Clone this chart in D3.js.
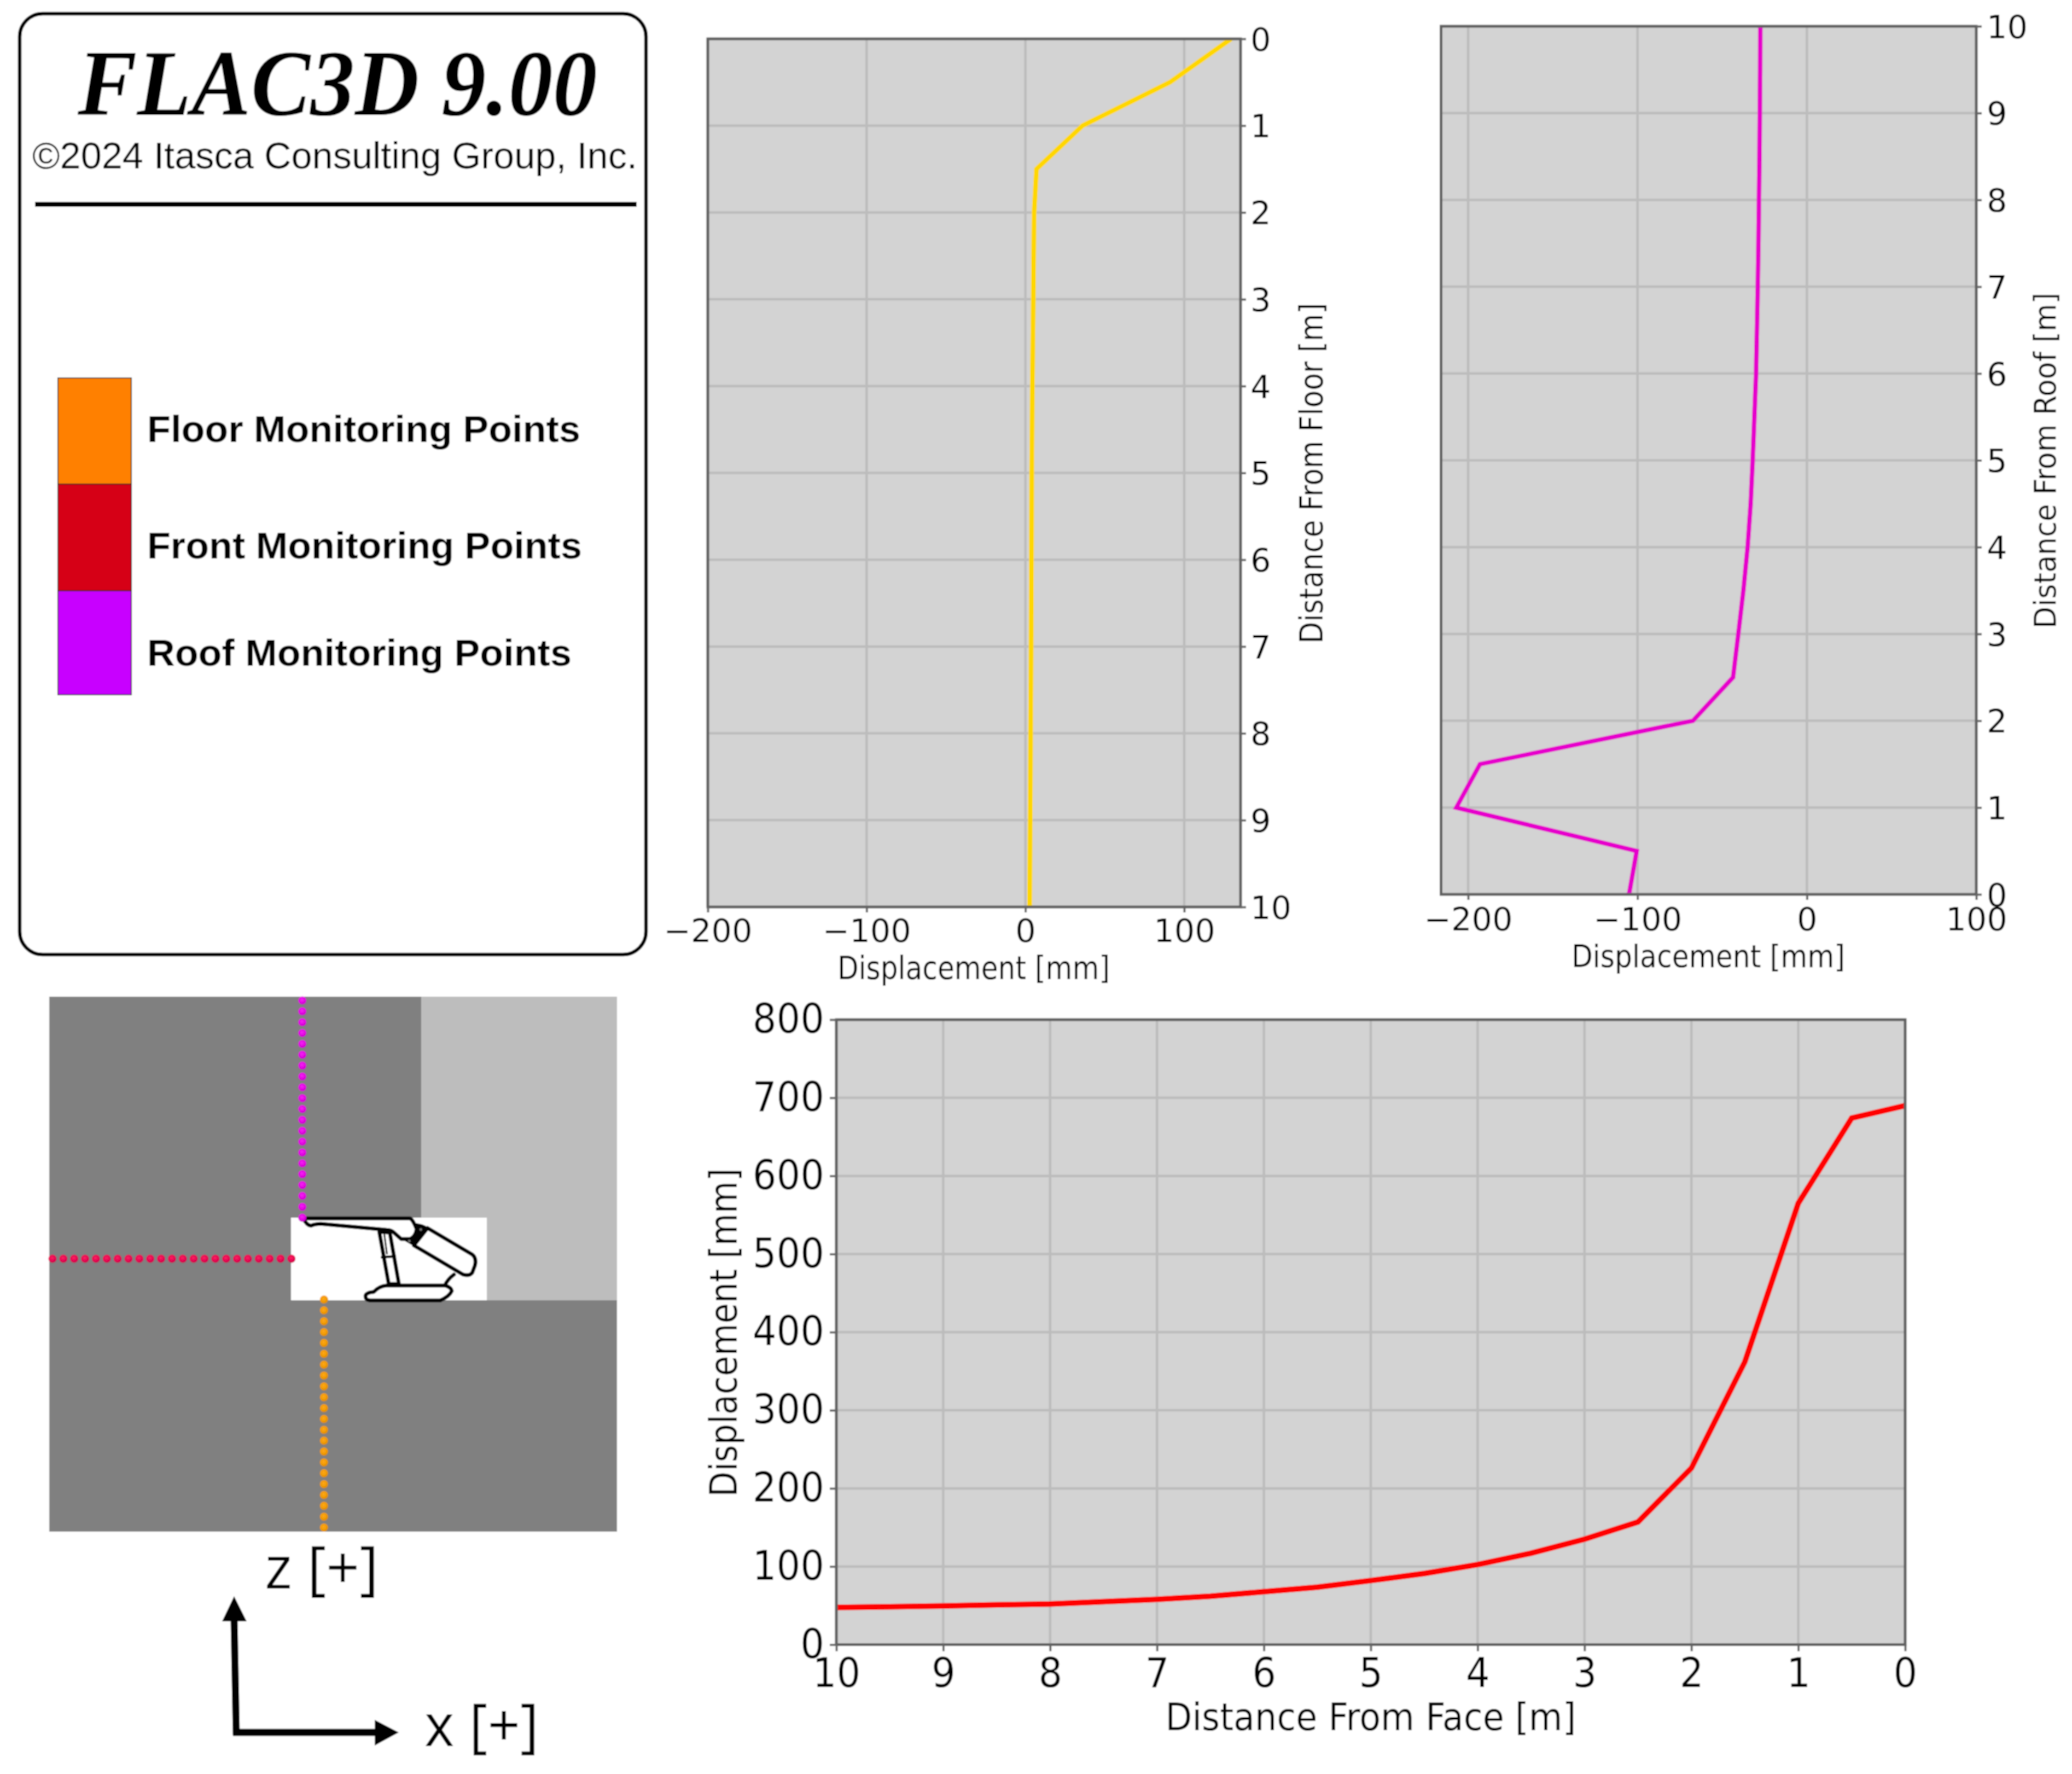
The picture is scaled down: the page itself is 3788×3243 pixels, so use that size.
<!DOCTYPE html>
<html><head><meta charset="utf-8">
<script src="https://cdn.jsdelivr.net/npm/d3@7/dist/d3.min.js"></script>
<style>html,body{margin:0;padding:0;background:#fff}svg{display:block}</style>
</head><body><svg id="c" width="3788" height="3243" viewBox="0 0 3788 3243"></svg>
<script>
// ---- data ----
const distances=[0,0.5,1,1.5,2,2.5,3,3.5,4,4.5,5,5.5,6,6.5,7,7.5,8,8.5,9,9.5,10];
const floorDisp=[129.5,91,36,7,5.5,5.2,5,4.7,4.4,4.2,4,3.9,3.8,3.7,3.6,3.45,3.3,3.15,3,2.85,2.7];
const roofDisp=[-105,-100.5,-207,-193,-67.3,-43.6,-40.5,-37.5,-35,-33.2,-32,-31,-30,-29.5,-29,-28.6,-28.3,-28,-27.8,-27.6,-27.5];
const faceDisp=[690,674,565,362,226,157,135,117,102.5,91,82,73.5,67.7,62,58,55,52,51,49.6,48.5,47.7];
const disTicks=[0,1,2,3,4,5,6,7,8,9,10];
const floorXTicks=[-200,-100,0,100];
const roofXTicks=[-200,-100,0,100];
const faceYTicks=[0,100,200,300,400,500,600,700,800];
const legendNames=["Floor Monitoring Points","Front Monitoring Points","Roof Monitoring Points"];
const legendColors=["#ff8000","#d60018","#c800ff"];
const legendWidths=[792,795,776];
const roofPoints=distances;
const frontPoints=[0,0.5,1,1.5,2,2.5,3,3.5,4,4.5,5,5.5,6,6.5,7,7.5,8,8.5,9,9.5,10,10.5,11];
const floorPoints=[0,0.5,1,1.5,2,2.5,3,3.5,4,4.5,5,5.5,6,6.5,7,7.5,8,8.5,9,9.5,10,10.5];

const rootSvg=d3.select("#c");
const DJ="'DejaVu Sans'";
const defs=rootSvg.append("defs");
defs.append("filter").attr("id","soft").attr("filterUnits","userSpaceOnUse").attr("x",0).attr("y",0).attr("width",3788).attr("height",3243)
  .append("feGaussianBlur").attr("stdDeviation",1.1);
const svg=rootSvg.append("g").attr("filter","url(#soft)");
svg.append("rect").attr("width",3788).attr("height",3243).attr("fill","#fff");

function fitText(sel,len){sel.attr("textLength",len).attr("lengthAdjust","spacingAndGlyphs");return sel;}
function stretchTicks(axisG,fs,sx){
  axisG.selectAll("text").attr("font-size",fs).attr("font-family",DJ).attr("fill","#000")
    .each(function(){const n=this.getComputedTextLength();d3.select(this).attr("textLength",n*sx).attr("lengthAdjust","spacingAndGlyphs");});
}
const fmt=v=>String(v).replace("-","\u2212");
function panel(o){
  const g=svg.append("g");
  const id="clip"+o.id;
  defs.append("clipPath").attr("id",id).append("rect").attr("x",o.l).attr("y",o.t).attr("width",o.r-o.l).attr("height",o.b-o.t);
  g.append("rect").attr("x",o.l).attr("y",o.t).attr("width",o.r-o.l).attr("height",o.b-o.t).attr("fill","#d3d3d3");
  const grid=g.append("g").attr("stroke","#bcbcbc").attr("stroke-width",4.5);
  grid.selectAll("line.x").data(o.xTicks).join("line").attr("x1",d=>o.x(d)).attr("x2",d=>o.x(d)).attr("y1",o.t).attr("y2",o.b);
  grid.selectAll("line.y").data(o.yTicks).join("line").attr("class","y").attr("y1",d=>o.y(d)).attr("y2",d=>o.y(d)).attr("x1",o.l).attr("x2",o.r);
  const line=d3.line().x(d=>o.x(d[0])).y(d=>o.y(d[1]));
  g.append("path").attr("clip-path",`url(#${id})`).attr("d",line(o.pts)).attr("fill","none").attr("stroke",o.color).attr("stroke-width",o.lw).attr("stroke-linejoin","miter");
  g.append("rect").attr("x",o.l).attr("y",o.t).attr("width",o.r-o.l).attr("height",o.b-o.t).attr("fill","none").attr("stroke","#5e5e5e").attr("stroke-width",5);
  const ax=g.append("g").attr("transform",`translate(0,${o.b})`)
    .call(d3.axisBottom(o.x).tickValues(o.xTicks).tickFormat(fmt).tickSize(o.tickLen).tickPadding(o.xPad));
  const ay=o.right
    ? g.append("g").attr("transform",`translate(${o.r},0)`).call(d3.axisRight(o.y).tickValues(o.yTicks).tickSize(o.tickLen).tickPadding(o.yPad))
    : g.append("g").attr("transform",`translate(${o.l},0)`).call(d3.axisLeft(o.y).tickValues(o.yTicks).tickSize(o.tickLen).tickPadding(o.yPad));
  [ax,ay].forEach(a=>{a.select(".domain").remove();a.selectAll("line").attr("stroke","#666").attr("stroke-width",4);});
  if(o.right) ay.selectAll("text").attr("dy","0.36em");
  stretchTicks(ax,o.fs,o.sx);stretchTicks(ay,o.fs,o.sx);
  fitText(g.append("text").attr("x",o.xl.x).attr("y",o.xl.y).attr("text-anchor","middle").attr("font-family",DJ).attr("font-size",o.xl.fs).attr("fill","#000").text(o.xl.t),o.xl.w);
  fitText(g.append("text").attr("transform",`translate(${o.yl.x},${o.yl.y}) rotate(-90)`).attr("text-anchor","middle").attr("font-family",DJ).attr("font-size",o.yl.fs).attr("fill","#000").text(o.yl.t),o.yl.w);
}
panel({id:"floor",l:1294,r:2268,t:71,b:1658,
  x:d3.scaleLinear().domain([-200,135.5]).range([1294,2268]),
  y:d3.scaleLinear().domain([0,10]).range([71,1658]),
  xTicks:floorXTicks,yTicks:disTicks,pts:floorDisp.map((v,i)=>[v,distances[i]]),
  color:"#ffd700",lw:9,right:true,tickLen:10,xPad:12,yPad:8,fs:59,sx:1,
  xl:{t:"Displacement [mm]",x:1780,y:1790,fs:58,w:498},
  yl:{t:"Distance From Floor [m]",x:2418,y:865,fs:58,w:623}});
panel({id:"roof",l:2634.5,r:3613,t:48,b:1635,
  x:d3.scaleLinear().domain([-216,100]).range([2634.5,3613]),
  y:d3.scaleLinear().domain([0,10]).range([1635,48]),
  xTicks:roofXTicks,yTicks:disTicks,pts:roofDisp.map((v,i)=>[v,distances[i]]),
  color:"#e600cc",lw:8.5,right:true,tickLen:10,xPad:14,yPad:9,fs:59,sx:1,
  xl:{t:"Displacement [mm]",x:3123,y:1768,fs:57,w:500},
  yl:{t:"Distance From Roof [m]",x:3758,y:842,fs:56,w:614}});
panel({id:"face",l:1529,r:3483,t:1864,b:3006.5,
  x:d3.scaleLinear().domain([10,0]).range([1529,3483]),
  y:d3.scaleLinear().domain([0,800]).range([3006.5,1864]),
  xTicks:disTicks,yTicks:faceYTicks,pts:faceDisp.map((v,i)=>[distances[i],v]),
  color:"#ff0000",lw:10.5,right:false,tickLen:12,xPad:13,yPad:10,fs:74,sx:0.93,
  xl:{t:"Distance From Face [m]",x:2506,y:3163,fs:70,w:751},
  yl:{t:"Displacement [mm]",x:1347,y:2436,fs:70,w:601}});

// legend box
const box=svg.append("g");
box.append("rect").attr("x",36).attr("y",25).attr("width",1145).attr("height",1720).attr("rx",42).attr("fill","#fff").attr("stroke","#000").attr("stroke-width",6.5);
fitText(box.append("text").attr("x",617).attr("y",210).attr("text-anchor","middle").attr("font-family","'Liberation Serif'").attr("font-weight","bold").attr("font-style","italic").attr("font-size",172).text("FLAC3D 9.00"),950);
fitText(box.append("text").attr("x",612).attr("y",308).attr("text-anchor","middle").attr("font-family","'Liberation Sans'").attr("font-size",68).attr("fill","#000").text("\u00a92024 Itasca Consulting Group, Inc."),1106);
box.append("rect").attr("x",64).attr("y",369).attr("width",1100).attr("height",9).attr("fill","#000");
const swatchY=[691,885,1080,1270];
legendNames.forEach((n,i)=>{
  box.append("rect").attr("x",106).attr("y",swatchY[i]).attr("width",134).attr("height",swatchY[i+1]-swatchY[i]).attr("fill",legendColors[i]).attr("stroke","#222").attr("stroke-width",2);
});
const legendBase=[808,1021,1217];
legendNames.forEach((n,i)=>{
  fitText(box.append("text").attr("x",269).attr("y",legendBase[i]).attr("font-family","'Liberation Sans'").attr("font-weight","bold").attr("font-size",69).attr("fill","#000").text(n),legendWidths[i]);
});

// model view
const view=svg.append("g");
view.append("rect").attr("x",90).attr("y",1822).attr("width",1038).attr("height",978).attr("fill","#808080");
view.append("rect").attr("x",770).attr("y",1822).attr("width",358).attr("height",555).attr("fill","#bdbdbd");
view.append("rect").attr("x",532).attr("y",2226).attr("width",358).attr("height",151).attr("fill","#fff");

function sphere(id,hi,mid,lo){
  const gr=defs.append("radialGradient").attr("id",id).attr("cx","45%").attr("cy","40%").attr("r","62%");
  gr.append("stop").attr("offset","0%").attr("stop-color",hi);
  gr.append("stop").attr("offset","70%").attr("stop-color",mid);
  gr.append("stop").attr("offset","100%").attr("stop-color",lo);
}
sphere("sm","#f820f8","#dd00dd","#b000b8");
sphere("sr","#ff2060","#e00050","#b80048");
sphere("so","#ffa818","#ee9800","#c88000");
const pxPerM=39.7;
const roofS=d3.scaleLinear().domain([0,10]).range([2226,2226-10*pxPerM]);
const frontS=d3.scaleLinear().domain([0,10]).range([532.7,532.7-10*pxPerM]);
const floorS=d3.scaleLinear().domain([0,10]).range([2375.7,2375.7+10*pxPerM]);

// machine pictogram (outline traced in crop units)
const mach=view.append("g").attr("transform","translate(480,2150) scale(0.3333)")
  .attr("fill","#fff").attr("stroke","#000").attr("stroke-width",21).attr("stroke-linejoin","round").attr("stroke-linecap","round");
mach.append("path").attr("d","M1000,600 Q1015,565 1050,540").attr("fill","none");
mach.append("path").attr("d","M640,305 L692,592 L748,592 L698,310 Z");
mach.append("path").attr("d","M655,445 L726,440").attr("fill","none").attr("stroke-width",14);
mach.append("path").attr("d","M668,320 L682,425").attr("fill","none").attr("stroke","#000").attr("stroke-width",9);
mach.append("path").attr("d","M565,655 Q570,638 610,635 Q640,603 680,600 L1000,600 Q1035,610 1038,630 Q1025,660 975,682 L590,682 Q562,680 565,655 Z");
mach.append("path").attr("d","M905,285 L1150,430 Q1175,450 1165,490 L1150,530 Q1135,550 1100,540 L830,380 Z");
mach.append("path").attr("d","M840,262 Q880,265 905,285 Q870,335 830,380 L770,345 Q830,340 845,290 Z").attr("fill","#000").attr("stroke-width",8);
mach.append("path").attr("d","M225,232 L810,232 Q825,240 845,290 Q840,330 810,345 L760,345 L715,305 Q700,295 680,295 L320,262 Q290,262 265,272 Q240,268 225,232 Z");
mach.append("circle").attr("cx",868).attr("cy",293).attr("r",7).attr("fill","#777").attr("stroke","none");
mach.append("circle").attr("cx",805).attr("cy",356).attr("r",7).attr("fill","#777").attr("stroke","none");

const dots=view.append("g");
dots.selectAll("circle.r").data(roofPoints).join("circle").attr("class","r").attr("cx",552.7).attr("cy",d=>roofS(d)).attr("r",7.5).attr("fill","url(#sm)");
dots.selectAll("circle.f").data(frontPoints).join("circle").attr("class","f").attr("cx",d=>frontS(d)).attr("cy",2301).attr("r",7.5).attr("fill","url(#sr)");
dots.selectAll("circle.o").data(floorPoints).join("circle").attr("class","o").attr("cx",592.3).attr("cy",d=>floorS(d)).attr("r",7.5).attr("fill","url(#so)");

// orientation arrows
const arr=svg.append("g");
arr.append("path").attr("d","M432,3172 L428,2960").attr("stroke","#000").attr("stroke-width",13).attr("fill","none");
arr.append("path").attr("d","M428,2918 L451,2964 L406,2964 Z").attr("fill","#000");
arr.append("path").attr("d","M426,3167 L690,3167").attr("stroke","#000").attr("stroke-width",13).attr("fill","none");
arr.append("path").attr("d","M729,3167 L685,3144 L685,3191 Z").attr("fill","#000");
fitText(arr.append("text").attr("x",484).attr("y",2904).attr("font-family","'Open Sans'").attr("font-size",108).attr("fill","#000").text("z [+]"),208);
fitText(arr.append("text").attr("x",776).attr("y",3192).attr("font-family","'Open Sans'").attr("font-size",108).attr("fill","#000").text("x [+]"),209);
</script></body></html>
